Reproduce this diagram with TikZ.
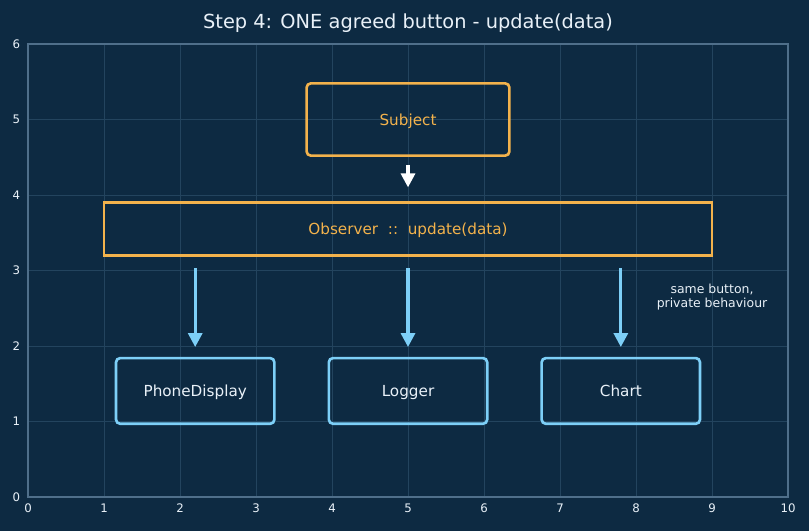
\documentclass[tikz,border=0pt]{standalone}
\usepackage{fontspec}
\setmainfont{DejaVu Sans}
\usetikzlibrary{arrows.meta}
\definecolor{bg}{HTML}{0D2A42}
\definecolor{gridc}{HTML}{23445E}
\definecolor{spinec}{HTML}{4F6F8A}
\definecolor{orng}{HTML}{F2B24C}
\definecolor{skyb}{HTML}{7DCFF7}
\definecolor{txt}{HTML}{E9F1F8}
\tikzset{
  orangebox/.style={draw=orng, line width=1.9bp, text=orng, font=\fontsize{11}{13}\selectfont, inner sep=0pt, text height=9.5bp, text depth=1.5bp},
  bluebox/.style={draw=skyb, line width=1.9bp, rounded corners=3bp, text=txt, font=\fontsize{11}{13}\selectfont, minimum width=114bp, minimum height=47.3bp, inner sep=0pt, text height=9.5bp, text depth=1.5bp},
  bluearrow/.style={draw=skyb, line width=2.3bp, -{Triangle[width=10bp,length=10bp]}, shorten <=8.2bp, shorten >=7bp},
  whitearrow/.style={draw=white, line width=2.3bp, -{Triangle[width=10bp,length=10bp]}, shorten <=5.5bp, shorten >=10bp},
  ticklab/.style={text=txt, font=\fontsize{8.5}{9.5}\selectfont, inner sep=0pt}
}
\begin{document}
\begin{tikzpicture}[x=54.72bp, y=54.36bp]
\useasboundingbox[fill=bg] (-0.3684,-0.4503) rectangle (10.276,6.5828);
% grid
\foreach \i in {1,...,9} \draw[gridc, line width=0.5bp] (\i,0) -- (\i,6);
\foreach \j in {1,...,5} \draw[gridc, line width=0.5bp] (0,\j) -- (10,\j);
% spine
\draw[spinec, line width=1bp] (0,0) rectangle (10,6);
% ticks
\foreach \i in {0,...,10} \node[ticklab, anchor=north] (xt\i) at (\i,-0.09) {\i};
\foreach \j in {0,...,6} \node[ticklab, anchor=east] (yt\j) at (-0.1,\j) {\j};
% title
\node[text=txt, font=\fontsize{14}{16}\selectfont] (title) at (5,6.28) {Step 4: ONE agreed button - update(data)};
% boxes
\node[orangebox, rounded corners=3bp, minimum width=146bp, minimum height=52bp] (subj) at (5,5) {Subject};
\node[orangebox, minimum width=437.8bp, minimum height=38bp] (obs) at (5,3.55) {Observer\ \ ::\ \ update(data)};
\node[bluebox] (phone) at (2.2,1.405) {PhoneDisplay};
\node[bluebox] (logger) at (5,1.405) {Logger};
\node[bluebox] (chart) at (7.8,1.405) {Chart};
% arrows
\draw[whitearrow] (subj.south) -- (obs.north);
\draw[bluearrow] (obs.south -| phone.north) -- (phone.north);
\draw[bluearrow] (obs.south -| logger.north) -- (logger.north);
\draw[bluearrow] (obs.south -| chart.north) -- (chart.north);
% annotation
\node[text=txt, font=\fontsize{9}{10.3}\selectfont, align=center] (note) at (9.0,2.65) {same button,\\private behaviour};
\end{tikzpicture}
\end{document}
